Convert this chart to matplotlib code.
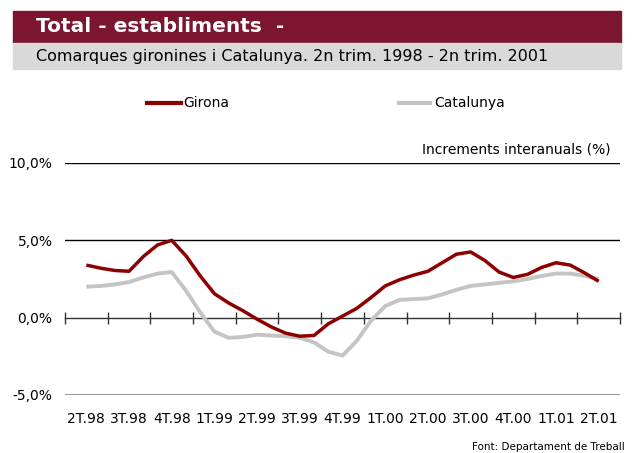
import numpy as np
import matplotlib
matplotlib.use("Agg")
import matplotlib.pyplot as plt

# quarter labels (x axis categories)
quarters = ["2T.98", "3T.98", "4T.98", "1T.99", "2T.99", "3T.99", "4T.99",
            "1T.00", "2T.00", "3T.00", "4T.00", "1T.01", "2T.01"]

# monthly year-on-year increments (%)
girona = [3.4, 3.2, 3.05, 3.0, 3.95, 4.7, 5.0, 4.0, 2.7, 1.55, 0.95, 0.45, -0.1,
          -0.6, -1.0, -1.2, -1.15, -0.4, 0.1, 0.6, 1.3, 2.05, 2.45, 2.75, 3.0,
          3.55, 4.1, 4.25, 3.7, 2.95, 2.6, 2.8, 3.25, 3.55, 3.4, 2.9, 2.35]
catalunya = [2.0, 2.05, 2.15, 2.3, 2.6, 2.85, 2.95, 1.75, 0.35, -0.9, -1.3, -1.25,
             -1.1, -1.15, -1.2, -1.3, -1.6, -2.2, -2.45, -1.5, -0.2, 0.75, 1.15,
             1.2, 1.25, 1.5, 1.8, 2.05, 2.15, 2.25, 2.35, 2.5, 2.7, 2.85, 2.85,
             2.7, 2.5]

RED = "#8b0000"
GREY = "#c4c4c4"
TITLE_BG = "#7b1530"
SUB_BG = "#d9d9d9"

fig = plt.figure(figsize=(6.34, 4.53), dpi=100)
W, H = 634, 453

# header bars
fig.patches.append(plt.Rectangle((13 / W, 1 - 43 / H), 608 / W, 32 / H,
                                 transform=fig.transFigure, color=TITLE_BG))
fig.patches.append(plt.Rectangle((13 / W, 1 - 69 / H), 608 / W, 26 / H,
                                 transform=fig.transFigure, color=SUB_BG))
fig.text(36 / W, 1 - 27 / H, "Total - establiments  -", color="white",
         fontsize=14.5, fontweight="bold", va="center", ha="left")
fig.text(36 / W, 1 - 57 / H,
         "Comarques gironines i Catalunya. 2n trim. 1998 - 2n trim. 2001",
         color="black", fontsize=11.5, va="center", ha="left")

ax = fig.add_axes([65 / W, 1 - 395 / H, 555 / W, 232 / H])

x = np.arange(len(girona)) / 3.0
ax.plot(x, catalunya, color=GREY, lw=2.8, solid_capstyle="butt",
        solid_joinstyle="round", zorder=3)
ax.plot(x, girona, color=RED, lw=2.5, solid_capstyle="butt",
        solid_joinstyle="round", zorder=4)

ax.set_xlim(-0.5, len(quarters) - 0.5)
ax.set_ylim(-5, 10)
ax.set_yticks([-5, 0, 5, 10])
ax.set_yticklabels(["-5,0%", "0,0%", "5,0%", "10,0%"], fontsize=10)
ax.set_xticks(np.arange(len(quarters)))
ax.set_xticklabels(quarters, fontsize=10)
ax.tick_params(axis="y", length=0, pad=9)
ax.tick_params(axis="x", length=0, pad=12)

for s in ["top", "right", "left", "bottom"]:
    ax.spines[s].set_visible(False)
ax.axhline(10, color="black", lw=1.0, zorder=1)
ax.axhline(5, color="black", lw=1.0, zorder=1)
ax.axhline(-5, color="#808080", lw=1.2, zorder=1)

# zero axis with tick marks between quarters
sec = ax.secondary_xaxis(1 / 3)
sec.set_xticks(np.arange(len(quarters) + 1) - 0.5)
sec.set_xticklabels([])
sec.tick_params(direction="inout", length=8, width=1.0, color="#333333")
sec.spines["bottom"].set_color("#333333")
sec.spines["bottom"].set_linewidth(1.0)

ax.annotate("Increments interanuals (%)", xy=(1.0, 10), xycoords=ax.get_yaxis_transform(),
            xytext=(-7, 5), textcoords="offset points",
            ha="right", va="bottom", fontsize=10)

# legend
fig.lines.append(plt.Line2D([147 / W, 181 / W], [1 - 103 / H] * 2, color=RED, lw=3,
                            transform=fig.transFigure))
fig.text(183 / W, 1 - 103 / H, "Girona", fontsize=10, va="center", ha="left")
fig.lines.append(plt.Line2D([399 / W, 430 / W], [1 - 103 / H] * 2, color=GREY, lw=3,
                            transform=fig.transFigure))
fig.text(434 / W, 1 - 103 / H, "Catalunya", fontsize=10, va="center", ha="left")

fig.text(625 / W, 1 - 447 / H, "Font: Departament de Treball", fontsize=7.5,
         ha="right", va="center")

fig.savefig("out.png", dpi=100)
